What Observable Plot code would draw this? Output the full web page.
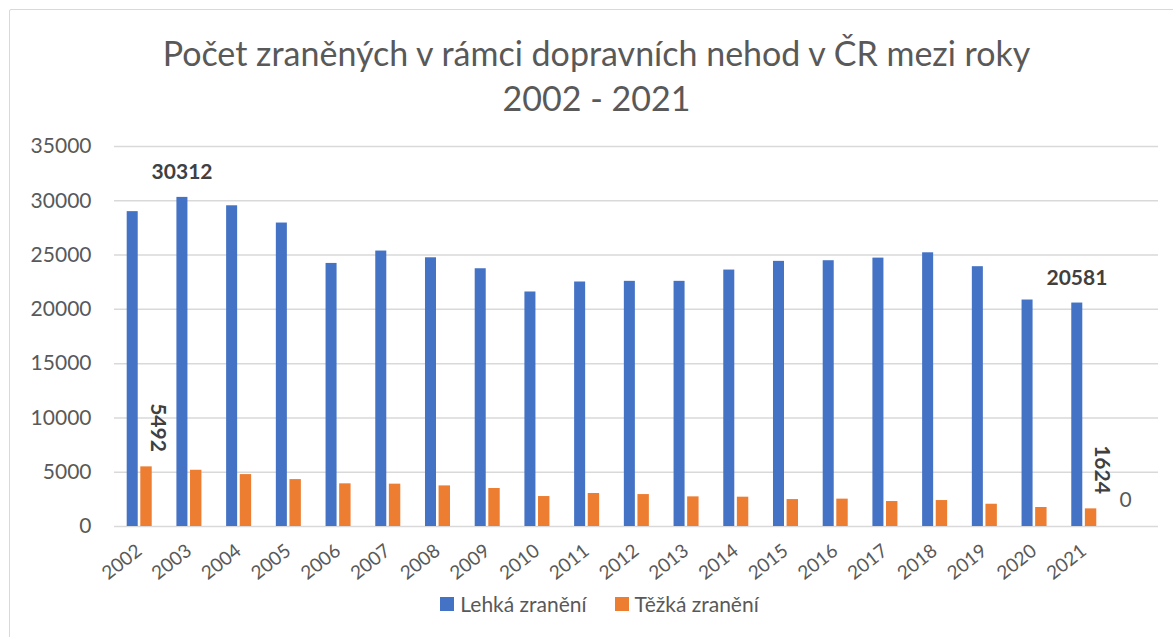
<!DOCTYPE html>
<html>
<head>
<meta charset="utf-8">
<script src="https://cdn.jsdelivr.net/npm/d3@7"></script>
<script src="https://cdn.jsdelivr.net/npm/@observablehq/plot@0.6"></script>
<style>
  html, body { margin: 0; padding: 0; background: #fff; }
  body { width: 1173px; height: 637px; overflow: hidden; position: relative; font-family: Lato, "Open Sans", sans-serif; }
  #frame { position: absolute; left: 9px; top: 9px; width: 1240px; height: 700px; border: 1.5px solid #d9d9d9; border-radius: 2px; box-sizing: border-box; }
  #title { position: absolute; left: 20px; top: 30px; width: 1153px; text-align: center; font-size: 34px; line-height: 45px; color: #595959; }
  #chart { position: absolute; left: 0; top: 120px; }
  #legend { position: absolute; left: 28px; top: 591px; width: 1143px; display: flex; justify-content: center; align-items: center; font-size: 21px; color: #595959; }
  .sw { display: inline-block; width: 14px; height: 14px; margin-right: 6px; }
  .item { display: flex; align-items: center; margin: 0 14px; }
</style>
</head>
<body>
<div id="frame"></div>
<div id="title">Počet zraněných v rámci dopravních nehod v ČR mezi roky<br>2002 - 2021</div>
<div id="chart"></div>
<div id="legend"></div>
<script>
const years = ["2002","2003","2004","2005","2006","2007","2008","2009","2010","2011","2012","2013","2014","2015","2016","2017","2018","2019","2020","2021"];
const lehka = [29000, 30312, 29540, 27950, 24230, 25370, 24750, 23740, 21600, 22520, 22580, 22580, 23620, 24420, 24480, 24720, 25210, 23930, 20860, 20581];
const tezka = [5492, 5180, 4780, 4320, 3930, 3900, 3740, 3500, 2760, 3040, 2940, 2730, 2700, 2480, 2520, 2300, 2390, 2050, 1750, 1624];
const extraCategory = " ";
const extraValue = 0;
const seriesNames = ["Lehká zranění", "Těžká zranění"];
const seriesColors = ["#4472C4", "#ED7D31"];
const yTicks = [0, 5000, 10000, 15000, 20000, 25000, 30000, 35000];
const boldBlueLabels = ["2003", "2021"];
const boldOrangeLabels = ["2002", "2021"];

const rows = years.map((year, i) => ({year, lehka: lehka[i], tezka: tezka[i]}));
const blueLabelRows = rows.filter(d => boldBlueLabels.includes(d.year));
const orangeLabelRows = rows.filter(d => boldOrangeLabels.includes(d.year));
const extraRows = [{year: extraCategory, value: extraValue}];

const chart = Plot.plot({
  width: 1173,
  height: 465,
  marginLeft: 114,
  marginRight: 15,
  marginTop: 26,
  marginBottom: 59,
  style: {fontFamily: "Lato, 'Open Sans', sans-serif", color: "#595959", background: "transparent"},
  x: {domain: [...years, extraCategory], padding: 0, round: false, label: null},
  y: {domain: [0, 35000], label: null},
  marks: [
    Plot.ruleY(yTicks, {stroke: "#d9d9d9", strokeWidth: 1.5}),
    Plot.barY(rows, {x: "year", y: "lehka", fill: seriesColors[0], insetLeft: 12.7, insetRight: 26}),
    Plot.barY(rows, {x: "year", y: "tezka", fill: seriesColors[1], insetLeft: 26.3, insetRight: 12}),
    Plot.axisY({ticks: yTicks, tickSize: 0, tickPadding: 23, tickFormat: d3.format("d"), fontSize: 21, fill: "#595959", label: null}),
    Plot.axisX({tickSize: 0, tickPadding: 22, tickRotate: -38, fontSize: 19, fill: "#595959", label: null}),
    Plot.text(blueLabelRows, {x: "year", y: "lehka", text: d => String(d.lehka), dx: -7, dy: -25, fontSize: 21, fontWeight: "bold", fill: "#404040"}),
    Plot.text(orangeLabelRows, {x: "year", y: "tezka", text: d => String(d.tezka), rotate: 90, textAnchor: "end", dx: 18, dy: -15, fontSize: 21, fontWeight: "bold", fill: "#404040"}),
    Plot.text(extraRows, {x: "year", y: "value", text: d => String(d.value), dx: -8, dy: -26, fontSize: 21, fill: "#595959"})
  ]
});
document.getElementById("chart").appendChild(chart);

const legend = document.getElementById("legend");
seriesNames.forEach((name, i) => {
  const item = document.createElement("div");
  item.className = "item";
  const sw = document.createElement("span");
  sw.className = "sw";
  sw.style.background = seriesColors[i];
  const label = document.createElement("span");
  label.textContent = name;
  item.appendChild(sw);
  item.appendChild(label);
  legend.appendChild(item);
});
</script>
</body>
</html>
